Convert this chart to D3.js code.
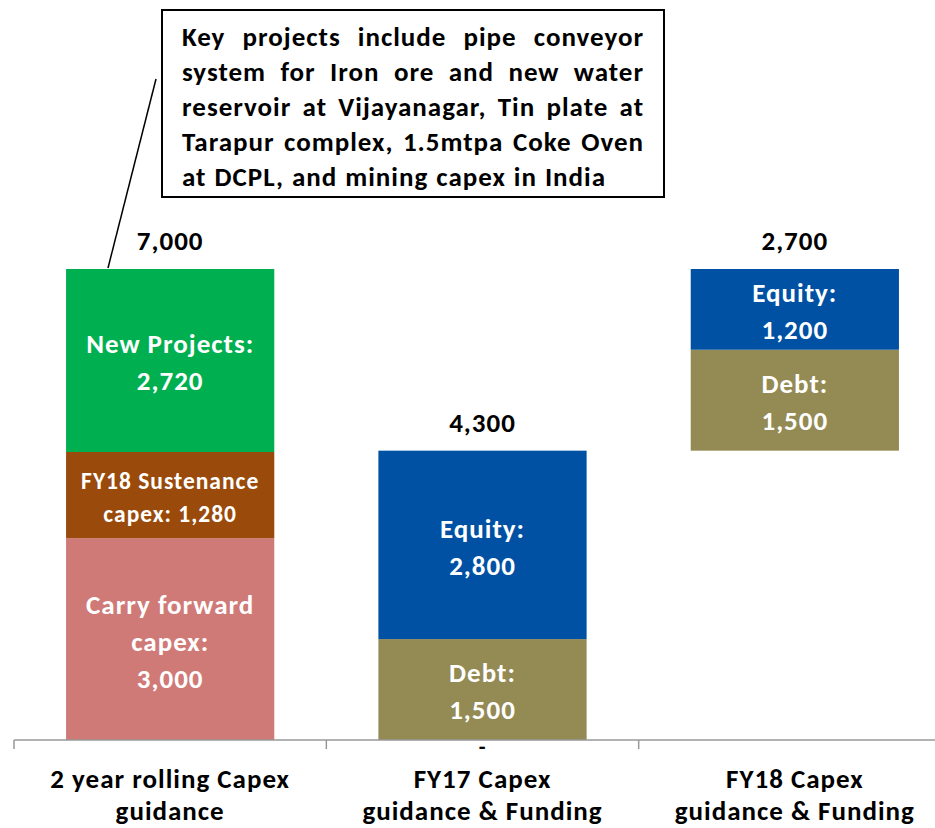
<!DOCTYPE html>
<html><head><meta charset="utf-8">
<script src="https://cdn.jsdelivr.net/npm/d3@7"></script>
<style>body{margin:0;background:#fff}svg{display:block}text{font-family:Carlito,Lato,"Open Sans",sans-serif;font-weight:bold;letter-spacing:1px}</style>
</head><body><svg id="c" width="935" height="828"></svg>
<script>
const categories = [["2 year rolling Capex","guidance"],["FY17 Capex","guidance & Funding"],["FY18 Capex","guidance & Funding"]];
const base        = [0, 0, 4300];
const carryForward= [3000, 0, 0];
const sustenance  = [1280, 0, 0];
const newProjects = [2720, 0, 0];
const debt        = [0, 1500, 1500];
const equity      = [0, 2800, 1200];
const totals      = ["7,000", "4,300", "2,700"];
const baseLabels  = ["", "-", ""];
const seriesNames = ["Carry forward capex", "FY18 Sustenance capex", "New Projects", "Debt", "Equity"];
const seriesColors= ["#D07A78", "#9A4A0A", "#00B050", "#948A54", "#0051A3"];
const seriesLabels = [
  [["Carry forward","capex:","3,000"], null, null],
  [["FY18 Sustenance","capex: 1,280"], null, null],
  [["New Projects:","2,720"], null, null],
  [null, ["Debt:","1,500"], ["Debt:","1,500"]],
  [null, ["Equity:","2,800"], ["Equity:","1,200"]]
];
const calloutLines = ["Key projects include pipe conveyor","system for Iron ore and new water","reservoir at Vijayanagar, Tin plate at","Tarapur complex, 1.5mtpa Coke Oven","at DCPL, and mining capex in India"];

const FS = 27;
const svg = d3.select("#c");
const x = d3.scaleBand().domain(d3.range(3)).range([14, 951]).paddingInner(1/3).paddingOuter(1/6);
const y = d3.scaleLinear().domain([0, 7000]).range([740, 269]);

const seriesVals = [carryForward, sustenance, newProjects, debt, equity];
const table = d3.range(3).map(i => {
  const o = {i, base: base[i]};
  seriesNames.forEach((n, k) => o[n] = seriesVals[k][i]);
  return o;
});
const stack = d3.stack().keys(["base", ...seriesNames])(table);

stack.forEach((layer, li) => {
  if (li === 0) return;
  const k = li - 1;
  svg.append("g").selectAll("rect").data(layer).join("rect")
    .attr("x", d => x(d.data.i)).attr("width", x.bandwidth())
    .attr("y", d => y(d[1])).attr("height", d => y(d[0]) - y(d[1]))
    .attr("fill", seriesColors[k]);
  layer.forEach(d => {
    const lab = seriesLabels[k][d.data.i];
    if (!lab || d[1] - d[0] <= 0) return;
    const small = k === 1;
    const fs = small ? 23.5 : FS, lh = small ? 33 : 37;
    const cy = (y(d[0]) + y(d[1])) / 2 + 2;
    const cx = x(d.data.i) + x.bandwidth() / 2;
    const t = svg.append("text").attr("fill", "#fff").attr("font-size", fs).attr("text-anchor", "middle");
    lab.forEach((s, j) => {
      t.append("tspan").attr("x", cx).attr("y", cy + (j - (lab.length - 1) / 2) * lh).attr("dy", "0.35em").text(s);
    });
  });
});

// totals
const topStack = stack[stack.length - 1];
svg.append("g").selectAll("text").data(topStack).join("text")
  .attr("x", d => x(d.data.i) + x.bandwidth() / 2).attr("y", d => y(d[1]) - 28)
  .attr("dy", "0.35em").attr("text-anchor", "middle").attr("font-size", FS).attr("fill", "#000")
  .text((d, i) => totals[i]);
// base labels
svg.append("g").selectAll("text").data(stack[0]).join("text")
  .attr("x", d => x(d.data.i) + x.bandwidth() / 2).attr("y", d => y(d[1]) + 6)
  .attr("dy", "0.35em").attr("text-anchor", "middle").attr("font-size", 22).attr("fill", "#000")
  .text((d, i) => baseLabels[i]);

// axis
const ax = svg.append("g").attr("transform", "translate(0,740)")
  .call(d3.axisBottom(x).tickSizeOuter(0).tickFormat(""));
ax.select(".domain").remove();
ax.selectAll(".tick").remove();
ax.append("line").attr("x1", 14).attr("x2", 935).attr("stroke", "#999").attr("stroke-width", 1.5);
const step = x.step();
ax.selectAll("line.tk").data(d3.range(4)).join("line").attr("class", "tk")
  .attr("x1", i => 14 + i * step).attr("x2", i => 14 + i * step)
  .attr("y1", 0).attr("y2", 9).attr("stroke", "#999").attr("stroke-width", 1.5);
categories.forEach((c, i) => {
  const t = ax.append("text").attr("text-anchor", "middle").attr("font-size", FS).attr("fill", "#000");
  c.forEach((s, j) => t.append("tspan").attr("x", x(i) + x.bandwidth() / 2).attr("y", 39 + j * 32).attr("dy", "0.35em").text(s));
});

// callout
svg.append("line").attr("x1", 108).attr("y1", 268).attr("x2", 156).attr("y2", 79).attr("stroke", "#000").attr("stroke-width", 1.5);
svg.append("rect").attr("x", 162).attr("y", 10).attr("width", 502).attr("height", 187)
  .attr("fill", "#fff").attr("stroke", "#000").attr("stroke-width", 2);
const left = 182, right = 644;
calloutLines.forEach((line, j) => {
  const yy = 37 + j * 34.8;
  const words = line.split(" ");
  const g = svg.append("g");
  const ts = words.map(w => g.append("text").attr("font-size", FS).attr("fill", "#000").attr("y", yy).attr("dy", "0.35em").text(w));
  const widths = ts.map(t => t.node().getComputedTextLength());
  const total = d3.sum(widths);
  const last = j === calloutLines.length - 1;
  const gap = last ? 8 : (right - left - total) / (words.length - 1);
  let cx = left;
  ts.forEach((t, k) => { t.attr("x", cx); cx += widths[k] + gap; });
});
</script></body></html>
